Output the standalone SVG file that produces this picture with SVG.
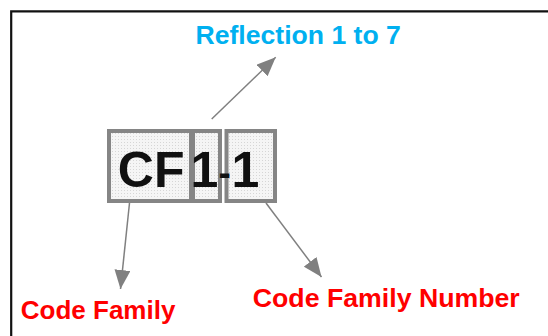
<svg xmlns="http://www.w3.org/2000/svg" width="548" height="336" viewBox="0 0 548 336">
  <style>
    .box { fill: url(#dots); stroke: #858585; stroke-width: 4; }
    .big { font-family: "Liberation Sans", Arial, sans-serif; font-weight: bold; font-size: 50px; fill: #111; }
    .lbl { font-family: "Liberation Sans", Arial, sans-serif; font-weight: bold; font-size: 26px; }
    .red { fill: #ff0000; }
    .cyan { fill: #00b0f0; }
    .conn { stroke: #808080; stroke-width: 1.5; fill: none; marker-end: url(#arrow); }
  </style>
  <defs>
    <pattern id="dots" width="3" height="3" patternUnits="userSpaceOnUse">
      <rect width="3" height="3" fill="#f5f5f5"/>
      <rect x="1" y="1" width="1" height="1" fill="#d6d6d6"/>
    </pattern>
    <marker id="arrow" markerUnits="userSpaceOnUse" markerWidth="20" markerHeight="16" refX="19" refY="8" orient="auto">
      <path d="M0,0 L19,8 L0,16 z" fill="#808080"/>
    </marker>
  </defs>
  <rect width="548" height="336" fill="#fff"/>
  <path d="M11.2,336 V11.3 H548" fill="none" stroke="#111" stroke-width="2.2"/>

  <g id="connectors">
    <line class="conn" x1="211.7" y1="119" x2="275.7" y2="57.3"/>
    <line class="conn" x1="129.5" y1="203" x2="120.5" y2="289"/>
    <line class="conn" x1="266" y1="203" x2="321.5" y2="277"/>
  </g>

  <g id="node-cf">
    <rect class="box" x="109" y="131" width="82" height="70"/>
    <text class="big" x="117.8" y="187">CF</text>
  </g>
  <g id="node-reflection-digit">
    <rect class="box" x="193" y="131" width="27" height="70"/>
    <text class="big" x="190.5" y="187">1</text>
  </g>
  <g id="node-number">
    <rect class="box" x="226.5" y="131" width="48.5" height="70"/>
    <text class="big" x="231.5" y="187">1</text>
  </g>
  <g id="node-dash">
    <text class="big" x="218.5" y="184.5" style="font-size:37px">-</text>
  </g>

  <g id="label-reflection">
    <text class="lbl cyan" x="195.5" y="44" style="font-size:26.6px">Reflection 1 to 7</text>
  </g>
  <g id="label-code-family">
    <text class="lbl red" x="20.8" y="318.5">Code Family</text>
  </g>
  <g id="label-code-family-number">
    <text class="lbl red" x="252.8" y="306.7" style="font-size:26.7px">Code Family Number</text>
  </g>
</svg>
